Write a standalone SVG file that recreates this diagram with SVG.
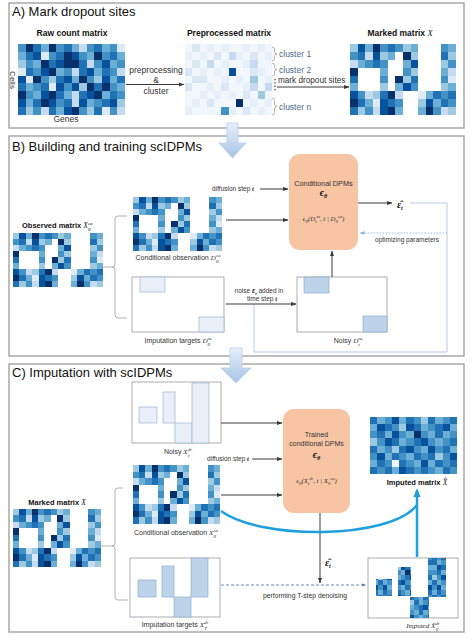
<svg xmlns="http://www.w3.org/2000/svg" width="472" height="640" viewBox="0 0 472 640">
<defs>
<style>
text{font-family:"Liberation Sans",Arial,sans-serif;fill:#333}
.t{font-size:13px;fill:#111}
.b{font-weight:bold;fill:#111}
.s{font-size:7px}
.m{font-family:"Liberation Serif","DejaVu Serif",serif;font-style:italic;font-weight:normal}
.mb{font-family:"Liberation Serif","DejaVu Serif",serif;font-style:italic;font-weight:bold;fill:#111}
.panel{fill:#fff;stroke:#9c9c9c;stroke-width:1.3}
.ln{stroke:#3a3a3a;stroke-width:1;fill:none}
.gr{stroke:#a8a8a8;stroke-width:0.9;fill:none}
.box{fill:#fff;stroke:#9a9a9a;stroke-width:0.8}
.dpm{fill:#f7c4a4}
.cl{font-size:8.5px;fill:#50698a}
.lt{fill:#e8eff8;stroke:#9db5d0;stroke-width:0.7}
.md{fill:#bcd3ea;stroke:#8fb0d4;stroke-width:0.7}
.big{fill:url(#ga);stroke:#b7cde6;stroke-width:0.8}
.cx path,.cx rect{shape-rendering:crispEdges}
</style>
<linearGradient id="ga" x1="0" y1="0" x2="0" y2="1"><stop offset="0" stop-color="#e6f0fa"/><stop offset="1" stop-color="#a7c4e6"/></linearGradient>
<marker id="ah" viewBox="0 0 10 10" refX="9" refY="5" markerWidth="6" markerHeight="6" markerUnits="userSpaceOnUse" orient="auto"><path d="M0,1.5 L10,5 L0,8.5z" fill="#3a3a3a"/></marker>
<marker id="ahl" viewBox="0 0 10 10" refX="9" refY="5" markerWidth="5" markerHeight="5" markerUnits="userSpaceOnUse" orient="auto"><path d="M0,1.5 L10,5 L0,8.5z" fill="#8fb3dc"/></marker>
<marker id="ahd" viewBox="0 0 10 10" refX="9" refY="5" markerWidth="5" markerHeight="5" markerUnits="userSpaceOnUse" orient="auto"><path d="M0,1.5 L10,5 L0,8.5z" fill="#5f82ad"/></marker>
<marker id="ahb" viewBox="0 0 10 10" refX="8" refY="5" markerWidth="9" markerHeight="9" markerUnits="userSpaceOnUse" orient="auto"><path d="M0,1 L10,5 L0,9z" fill="#1d9fe0"/></marker>

<symbol id="mk" viewBox="0 0 14 9" preserveAspectRatio="none" class="cx">
<rect width="14" height="9" fill="#fff"/>
<path fill="#08306b" d="M3 0h1v1h-1zM7 1h1v1h-1zM0 3h1v1h-1zM6 4h1v1h-1zM5 6h1v1h-1zM0 7h1v1h-1zM5 8h1v1h-1zM10 8h1v1h-1z"/>
<path fill="#08519c" d="M1 0h1v1h-1zM3 1h1v1h-1zM8 2h1v1h-1zM7 5h1v1h-1zM0 6h1v1h-1zM4 7h1v1h-1zM10 7h1v1h-1zM4 8h1v1h-1z"/>
<path fill="#2171b5" d="M5 0h1v1h-1zM1 1h1v1h-1zM12 1h1v1h-1zM3 2h1v1h-1zM0 4h1v1h-1zM8 4h1v1h-1zM4 6h1v1h-1zM11 6h1v1h-1zM13 6h1v1h-1zM1 7h1v1h-1zM5 7h1v1h-1zM12 7h1v1h-1zM0 8h1v1h-1z"/>
<path fill="#4292c6" d="M4 0h1v1h-1zM6 0h1v1h-1zM12 0h1v1h-1zM0 1h1v1h-1zM2 2h1v1h-1zM4 2h1v1h-1zM13 2h1v1h-1zM7 3h1v1h-1zM4 4h1v1h-1zM12 4h1v1h-1zM8 5h1v1h-1zM1 6h1v1h-1zM12 6h1v1h-1zM6 7h1v1h-1zM13 7h1v1h-1zM2 8h1v1h-1zM11 8h1v1h-1z"/>
<path fill="#6baed6" d="M2 0h1v1h-1zM8 0h1v1h-1zM13 0h1v1h-1zM5 1h1v1h-1zM1 2h1v1h-1zM7 2h1v1h-1zM4 3h1v1h-1zM12 3h1v1h-1zM0 5h1v1h-1zM6 5h1v1h-1zM13 5h1v1h-1zM10 6h1v1h-1zM2 7h1v1h-1zM11 7h1v1h-1zM6 8h1v1h-1zM9 8h1v1h-1z"/>
<path fill="#9ecae1" d="M0 0h1v1h-1zM7 0h1v1h-1zM4 1h1v1h-1zM8 1h1v1h-1zM13 1h1v1h-1zM12 2h1v1h-1zM8 3h1v1h-1zM7 4h1v1h-1zM4 5h1v1h-1zM12 5h1v1h-1zM3 6h1v1h-1zM9 7h1v1h-1zM1 8h1v1h-1zM13 8h1v1h-1z"/>
<path fill="#c6dbef" d="M2 1h1v1h-1zM0 2h1v1h-1zM13 3h1v1h-1zM2 6h1v1h-1zM6 6h1v1h-1zM3 8h1v1h-1zM12 8h1v1h-1z"/>
<path fill="#deebf7" d="M13 4h1v1h-1zM9 6h1v1h-1zM3 7h1v1h-1z"/>
</symbol>

<symbol id="raw" viewBox="0 0 14 9" preserveAspectRatio="none" class="cx">
<path fill="#08306b" d="M1 0h1v1h-1zM4 0h1v1h-1zM6 1h1v1h-1zM10 1h1v1h-1zM3 2h1v1h-1zM6 2h1v1h-1zM7 2h1v1h-1zM4 3h1v1h-1zM2 4h1v1h-1zM8 4h1v1h-1zM9 5h1v1h-1zM11 5h1v1h-1zM0 6h1v1h-1zM4 6h1v1h-1zM10 6h1v1h-1zM3 7h1v1h-1zM7 8h1v1h-1z"/>
<path fill="#08519c" d="M2 1h1v1h-1zM7 1h1v1h-1zM5 2h1v1h-1zM11 2h1v1h-1zM3 3h1v1h-1zM9 3h1v1h-1zM0 4h1v1h-1zM6 4h1v1h-1zM11 4h1v1h-1zM5 5h1v1h-1zM7 5h1v1h-1zM3 6h1v1h-1zM9 6h1v1h-1zM0 7h1v1h-1zM4 7h1v1h-1zM8 7h1v1h-1zM12 7h1v1h-1zM6 8h1v1h-1z"/>
<path fill="#2171b5" d="M2 0h1v1h-1zM6 0h1v1h-1zM10 0h1v1h-1zM1 1h1v1h-1zM5 1h1v1h-1zM12 1h1v1h-1zM4 2h1v1h-1zM8 2h1v1h-1zM1 3h1v1h-1zM8 3h1v1h-1zM11 3h1v1h-1zM5 4h1v1h-1zM13 4h1v1h-1zM0 5h1v1h-1zM3 5h1v1h-1zM10 5h1v1h-1zM5 6h1v1h-1zM8 6h1v1h-1zM12 6h1v1h-1zM2 7h1v1h-1zM6 7h1v1h-1zM11 7h1v1h-1zM0 8h1v1h-1zM4 8h1v1h-1zM10 8h1v1h-1z"/>
<path fill="#4292c6" d="M0 0h1v1h-1zM5 0h1v1h-1zM9 0h1v1h-1zM12 0h1v1h-1zM4 1h1v1h-1zM8 1h1v1h-1zM11 1h1v1h-1zM1 2h1v1h-1zM10 2h1v1h-1zM13 2h1v1h-1zM2 3h1v1h-1zM6 3h1v1h-1zM12 3h1v1h-1zM3 4h1v1h-1zM9 4h1v1h-1zM2 5h1v1h-1zM6 5h1v1h-1zM12 5h1v1h-1zM1 6h1v1h-1zM13 6h1v1h-1zM5 7h1v1h-1zM10 7h1v1h-1zM2 8h1v1h-1zM8 8h1v1h-1zM12 8h1v1h-1z"/>
<path fill="#6baed6" d="M3 0h1v1h-1zM7 0h1v1h-1zM11 0h1v1h-1zM0 1h1v1h-1zM9 1h1v1h-1zM13 1h1v1h-1zM2 2h1v1h-1zM12 2h1v1h-1zM5 3h1v1h-1zM10 3h1v1h-1zM7 4h1v1h-1zM12 4h1v1h-1zM1 5h1v1h-1zM13 5h1v1h-1zM2 6h1v1h-1zM6 6h1v1h-1zM11 6h1v1h-1zM1 7h1v1h-1zM9 7h1v1h-1zM5 8h1v1h-1z"/>
<path fill="#9ecae1" d="M0 2h1v1h-1zM4 4h1v1h-1zM10 4h1v1h-1zM8 5h1v1h-1zM13 7h1v1h-1zM1 8h1v1h-1zM9 8h1v1h-1z"/>
<path fill="#c6dbef" d="M8 0h1v1h-1zM9 2h1v1h-1zM7 3h1v1h-1zM13 3h1v1h-1zM7 6h1v1h-1zM7 7h1v1h-1zM3 8h1v1h-1zM13 8h1v1h-1z"/>
<path fill="#deebf7" d="M13 0h1v1h-1zM3 1h1v1h-1zM0 3h1v1h-1zM1 4h1v1h-1zM4 5h1v1h-1zM11 8h1v1h-1z"/>
</symbol>

<symbol id="pre" viewBox="0 0 12 9" preserveAspectRatio="none" class="cx">
<rect width="12" height="9" fill="#f1f7fc"/>
<path fill="#08306b" d="M7 7h1v1h-1z"/>
<path fill="#08519c" d="M6 3h1v1h-1z"/>
<path fill="#4292c6" d="M5 8h1v1h-1z"/>
<path fill="#9ecae1" d="M9 4h1v1h-1zM10 6h1v1h-1z"/>
<path fill="#c6dbef" d="M6 1h1v1h-1zM3 2h1v1h-1zM9 2h1v1h-1zM9 5h1v1h-1zM11 5h1v1h-1z"/>
<path fill="#dae8f5" d="M1 0h1v1h-1zM4 1h1v1h-1zM9 1h1v1h-1zM1 2h1v1h-1zM0 3h1v1h-1zM9 3h1v1h-1zM1 4h1v1h-1zM2 4h1v1h-1zM0 5h1v1h-1zM5 5h1v1h-1zM8 6h1v1h-1zM3 7h1v1h-1zM8 8h1v1h-1z"/>
<path fill="#e6f0f9" d="M3 0h1v1h-1zM5 0h1v1h-1zM8 0h1v1h-1zM10 0h1v1h-1zM0 1h1v1h-1zM2 1h1v1h-1zM7 1h1v1h-1zM11 1h1v1h-1zM5 2h1v1h-1zM8 2h1v1h-1zM2 3h1v1h-1zM4 3h1v1h-1zM10 3h1v1h-1zM5 4h1v1h-1zM7 4h1v1h-1zM11 4h1v1h-1zM3 5h1v1h-1zM8 5h1v1h-1zM2 6h1v1h-1zM4 6h1v1h-1zM6 6h1v1h-1zM1 7h1v1h-1zM9 7h1v1h-1zM11 7h1v1h-1zM0 8h1v1h-1zM6 8h1v1h-1zM10 8h1v1h-1z"/>
</symbol>

<symbol id="imp" viewBox="0 0 12 8" preserveAspectRatio="none" class="cx">
<rect width="12" height="8" fill="#6baed6"/>
<path fill="#08306b" d="M6 2h1v1h-1z"/>
<path fill="#08519c" d="M3 0h1v1h-1zM1 1h1v1h-1zM5 1h1v1h-1zM10 1h1v1h-1zM3 2h1v1h-1zM2 3h1v1h-1zM7 3h1v1h-1zM5 4h1v1h-1zM8 4h1v1h-1zM1 5h1v1h-1zM11 5h1v1h-1zM7 6h1v1h-1zM4 7h1v1h-1z"/>
<path fill="#2171b5" d="M0 0h1v1h-1zM5 0h1v1h-1zM8 0h1v1h-1zM11 0h1v1h-1zM2 1h1v1h-1zM6 1h1v1h-1zM9 1h1v1h-1zM1 2h1v1h-1zM9 2h1v1h-1zM3 3h1v1h-1zM6 3h1v1h-1zM11 3h1v1h-1zM0 4h1v1h-1zM4 4h1v1h-1zM10 4h1v1h-1zM3 5h1v1h-1zM6 5h1v1h-1zM8 5h1v1h-1zM1 6h1v1h-1zM4 6h1v1h-1zM9 6h1v1h-1zM11 6h1v1h-1zM0 7h1v1h-1zM2 7h1v1h-1zM5 7h1v1h-1zM7 7h1v1h-1zM10 7h1v1h-1z"/>
<path fill="#4292c6" d="M2 0h1v1h-1zM6 0h1v1h-1zM10 0h1v1h-1zM3 1h1v1h-1zM8 1h1v1h-1zM0 2h1v1h-1zM4 2h1v1h-1zM7 2h1v1h-1zM11 2h1v1h-1zM1 3h1v1h-1zM5 3h1v1h-1zM8 3h1v1h-1zM10 3h1v1h-1zM2 4h1v1h-1zM6 4h1v1h-1zM9 4h1v1h-1zM0 5h1v1h-1zM4 5h1v1h-1zM7 5h1v1h-1zM10 5h1v1h-1zM2 6h1v1h-1zM5 6h1v1h-1zM10 6h1v1h-1zM1 7h1v1h-1zM6 7h1v1h-1zM8 7h1v1h-1zM11 7h1v1h-1z"/>
<path fill="#9ecae1" d="M7 0h1v1h-1zM4 1h1v1h-1zM0 3h1v1h-1zM3 4h1v1h-1zM9 5h1v1h-1z"/>
<path fill="#f0f6fc" d="M3 6h1v1h-1z"/>
</symbol>
<pattern id="pimp" patternUnits="userSpaceOnUse" x="0" y="0" width="54" height="40"><use href="#imp" width="54" height="40"/></pattern>
</defs>

<rect width="472" height="640" fill="#fff"/>

<!-- Panels -->
<g id="panel-a"><rect class="panel" x="9" y="3" width="455" height="125"/><text class="t" x="12" y="16">A) Mark dropout sites</text></g>
<g id="panel-b"><rect class="panel" x="9" y="136" width="455" height="220"/><text class="t" x="12" y="151">B) Building and training scIDPMs</text></g>
<g id="panel-c"><rect class="panel" x="9" y="364" width="455" height="268"/><text class="t" x="12" y="377">C) Imputation with scIDPMs</text></g>

<!-- Panel A nodes -->
<g id="raw-matrix">
<text class="b" x="72" y="36" font-size="8.5" text-anchor="middle">Raw count matrix</text>
<use href="#raw" x="18" y="44" width="107" height="71"/>
<text transform="translate(10,80) rotate(90)" font-size="8" text-anchor="middle">Cells</text>
<text x="66" y="122" font-size="8.5" text-anchor="middle">Genes</text>
</g>
<g id="preprocessed-matrix">
<text class="b" x="229" y="36" font-size="8.5" text-anchor="middle">Preprocessed matrix</text>
<use href="#pre" x="185" y="44" width="87" height="71"/>
<path class="gr" d="M272,47 q2.5,0 2.5,2.5 v2 q0,2.5 2.5,2.5 q-2.5,0 -2.5,2.5 v2 q0,2.5 -2.5,2.5"/>
<path class="gr" d="M272,63 q2.5,0 2.5,2.5 v1.5 q0,2.5 2.5,2.5 q-2.5,0 -2.5,2.5 v1.5 q0,2.5 -2.5,2.5"/>
<path class="gr" d="M272,98 q2.5,0 2.5,2.5 v3.5 q0,2.5 2.5,2.5 q-2.5,0 -2.5,2.5 v3.5 q0,2.5 -2.5,2.5"/>
<text class="cl" x="279" y="57">cluster 1</text>
<text class="cl" x="279" y="73">cluster 2</text>
<text class="cl" x="279" y="110">cluster n</text>
</g>
<g id="marked-matrix-a">
<text class="b" x="400" y="36" font-size="8.5" text-anchor="middle">Marked matrix <tspan class="m" font-weight="bold">X</tspan></text>
<use href="#mk" x="350" y="44" width="106" height="71"/>
</g>

<!-- Panel B nodes -->
<g id="observed-matrix">
<text class="b" x="22" y="228" font-size="7.5">Observed matrix <tspan class="m">X</tspan><tspan class="m" font-size="5" dy="-3.5">ca</tspan><tspan class="m" font-size="5" dx="-4.5" dy="6">0</tspan></text>
<use href="#mk" x="13" y="233" width="90" height="54"/>
</g>
<g id="cond-obs-b">
<use href="#mk" x="133" y="197" width="89" height="54"/>
<text x="178" y="260" font-size="7" text-anchor="middle">Conditional observation <tspan class="m">D</tspan><tspan class="m" font-size="5" dy="-3.5">ca</tspan><tspan class="m" font-size="5" dx="-4.5" dy="6">0</tspan></text>
</g>
<g id="imp-targets-b">
<rect class="box" x="132" y="277" width="92" height="55"/>
<rect class="lt" x="140" y="277" width="25" height="15"/>
<rect class="lt" x="199" y="317" width="25" height="15"/>
<text x="178" y="343" font-size="7" text-anchor="middle">Imputation targets <tspan class="m">D</tspan><tspan class="m" font-size="5" dy="-3.5">ta</tspan><tspan class="m" font-size="5" dx="-4" dy="6">0</tspan></text>
</g>
<g id="dpm-b">
<rect class="dpm" x="289" y="154" width="69" height="96" rx="11"/>
<text x="323.5" y="186" font-size="7.3" text-anchor="middle" fill="#3a2a20">Conditional DPMs</text>
<text class="mb" x="323.5" y="196" font-size="10" text-anchor="middle">ϵ<tspan font-size="6" dy="2">θ</tspan></text>
<text class="m" x="323.5" y="221" font-size="6.8" text-anchor="middle" fill="#3a2a20">ϵ<tspan font-size="5" dy="2">θ</tspan><tspan dy="-2">(</tspan>D<tspan font-size="4.5" dy="2">t</tspan><tspan font-size="4.5" dy="-5.5">ta</tspan><tspan dy="3.5">, t | </tspan>D<tspan font-size="4.5" dy="2">0</tspan><tspan font-size="4.5" dy="-5.5">ca</tspan><tspan dy="3.5">)</tspan></text>
</g>
<g id="eps-hat-b">
<text class="mb" x="397" y="208" font-size="10">ε̂<tspan font-size="6" dy="2">t</tspan></text>
</g>
<g id="noisy-b">
<rect class="box" x="297" y="277" width="90" height="55"/>
<rect class="md" x="304" y="277" width="25" height="16"/>
<rect class="md" x="363" y="316" width="24" height="16"/>
<text x="348" y="343" font-size="7" text-anchor="middle">Noisy <tspan class="m">D</tspan><tspan class="m" font-size="5" dy="-3.5">ta</tspan><tspan class="m" font-size="5" dx="-4" dy="6">t</tspan></text>
</g>

<!-- Panel C nodes -->
<g id="noisy-c">
<rect class="box" x="132" y="382" width="89" height="61"/>
<rect class="lt" x="139" y="407" width="18" height="16"/>
<rect class="lt" x="163" y="392" width="12" height="31"/>
<rect class="lt" x="175" y="423" width="17" height="20"/>
<rect class="lt" x="192" y="383" width="17" height="60"/>
<text x="178" y="454" font-size="7" text-anchor="middle">Noisy <tspan class="m">X</tspan><tspan class="m" font-size="5" dy="-3.5">dr</tspan><tspan class="m" font-size="5" dx="-4" dy="6">t</tspan></text>
</g>
<g id="cond-obs-c">
<use href="#mk" x="133" y="465" width="87" height="59"/>
<text x="176" y="535" font-size="7" text-anchor="middle">Conditional observation <tspan class="m">X</tspan><tspan class="m" font-size="5" dy="-3.5">ca</tspan><tspan class="m" font-size="5" dx="-4.5" dy="6">0</tspan></text>
</g>
<g id="marked-matrix-c">
<text class="b" x="57" y="505" font-size="7.5" text-anchor="middle">Marked matrix <tspan class="m">X</tspan></text>
<use href="#mk" x="13" y="509" width="88" height="58"/>
</g>
<g id="imp-targets-c">
<rect class="box" x="130" y="558" width="90" height="59"/>
<rect class="md" x="138" y="580" width="18" height="17"/>
<rect class="md" x="162" y="566" width="12" height="31"/>
<rect class="md" x="174" y="597" width="17" height="20"/>
<rect class="md" x="191" y="558" width="17" height="39"/>
<text x="175" y="627" font-size="7" text-anchor="middle">Imputation targets <tspan class="m">X</tspan><tspan class="m" font-size="5" dy="-3.5">dr</tspan><tspan class="m" font-size="5" dx="-4" dy="6">T</tspan></text>
</g>
<g id="dpm-c">
<rect class="dpm" x="283" y="409" width="67" height="104" rx="11"/>
<text x="316.5" y="437" font-size="7" text-anchor="middle" fill="#3a2a20">Trained</text>
<text x="316.5" y="446" font-size="7" text-anchor="middle" fill="#3a2a20">conditional DPMs</text>
<text class="mb" x="316.5" y="458" font-size="10" text-anchor="middle">ϵ<tspan font-size="6" dy="2">θ</tspan></text>
<text class="m" x="316.5" y="483" font-size="6.8" text-anchor="middle" fill="#3a2a20">ϵ<tspan font-size="5" dy="2">θ</tspan><tspan dy="-2">(</tspan>X<tspan font-size="4.5" dy="2">t</tspan><tspan font-size="4.5" dy="-5.5">dr</tspan><tspan dy="3.5">, t | </tspan>X<tspan font-size="4.5" dy="2">0</tspan><tspan font-size="4.5" dy="-5.5">ca</tspan><tspan dy="3.5">)</tspan></text>
</g>
<g id="eps-hat-c">
<text class="mb" x="325" y="566" font-size="10">ε̂<tspan font-size="6" dy="2">t</tspan></text>
</g>
<g id="imputed-sub">
<rect class="box" x="368" y="558" width="90" height="60"/>
<rect x="376" y="579" width="16" height="17" fill="url(#pimp)"/>
<rect x="398" y="567" width="13" height="29" fill="url(#pimp)"/>
<rect x="410" y="597" width="19" height="21" fill="url(#pimp)"/>
<rect x="428" y="558" width="18" height="39" fill="url(#pimp)"/>
<text class="m" x="423" y="628" font-size="7" text-anchor="middle" font-style="normal">Imputed <tspan font-style="italic">X̂</tspan><tspan font-size="5" font-style="italic" dy="-3.5">dr</tspan><tspan font-size="5" font-style="italic" dx="-4" dy="6">0</tspan></text>
</g>
<g id="imputed-matrix">
<use href="#imp" x="370" y="417" width="87" height="57"/>
<text class="b" x="417" y="485" font-size="7.5" text-anchor="middle">Imputed matrix <tspan class="m">X̂</tspan></text>
</g>

<!-- Block arrows between panels -->
<g id="flow-arrows">
<path class="big" d="M227,123 H238 V143 H246 L232.5,158 L219,143 H227 Z"/>
<path class="big" d="M230,348 H242 V368 H251 L236,383 L221,368 H230 Z"/>
</g>

<!-- Connectors -->
<g id="connectors">
<line class="ln" x1="126" y1="84.5" x2="184" y2="84.5" marker-end="url(#ah)"/>
<text x="156" y="73" font-size="8.5" text-anchor="middle">preprocessing</text>
<text x="156" y="82.5" font-size="8.5" text-anchor="middle">&amp;</text>
<text x="156" y="94" font-size="8.5" text-anchor="middle">cluster</text>
<line x1="275" y1="79" x2="275" y2="92" stroke="#333" stroke-width="1.2" stroke-dasharray="1.3 2"/>
<text x="278" y="83" font-size="8.2">mark dropout sites</text>
<line class="ln" x1="277" y1="87" x2="349" y2="87" marker-end="url(#ah)"/>

<path class="gr" d="M127,216 H118 Q115,216 115,219 V264 Q115,267 112,267 H103 M112,267 Q115,267 115,270 V315 Q115,318 118,318 H127"/>
<text x="233" y="191" font-size="6.5" text-anchor="middle">diffusion step <tspan class="mb">t</tspan></text>
<line class="ln" x1="260" y1="189" x2="288" y2="189" marker-end="url(#ah)"/>
<line class="ln" x1="226" y1="220" x2="288" y2="220" marker-end="url(#ah)"/>
<line class="ln" x1="358" y1="203" x2="392" y2="203" marker-end="url(#ah)"/>
<path d="M410,203 H447 V352 H254 V304" fill="none" stroke="#b5cbe3" stroke-width="1"/>
<line x1="447" y1="233" x2="360" y2="233" stroke="#9dbbe0" stroke-width="1" stroke-dasharray="1.5 1.5" marker-end="url(#ahl)"/>
<text x="407" y="242" font-size="6.5" text-anchor="middle">optimizing  parameters</text>
<text x="259" y="293" font-size="6.5" text-anchor="middle">noise <tspan class="mb" font-size="8">ε</tspan><tspan class="mb" font-size="5" dy="1.5">t</tspan><tspan dy="-1.5"> added in</tspan></text>
<text x="262" y="301" font-size="6.5" text-anchor="middle">time step <tspan class="mb">t</tspan></text>
<line class="ln" x1="226" y1="304" x2="296" y2="304" marker-end="url(#ah)"/>
<line class="ln" x1="332" y1="277" x2="332" y2="251" marker-end="url(#ah)"/>

<line class="ln" x1="221" y1="423" x2="282" y2="423" marker-end="url(#ah)"/>
<text x="228" y="461" font-size="6.5" text-anchor="middle">diffusion step <tspan class="mb">t</tspan></text>
<line class="ln" x1="252" y1="459" x2="282" y2="459" marker-end="url(#ah)"/>
<line class="ln" x1="221" y1="495" x2="282" y2="495" marker-end="url(#ah)"/>
<path class="gr" d="M123,488 H118 Q115,488 115,491 V543 Q115,546 112,546 H101 M112,546 Q115,546 115,549 V597 Q115,600 118,600 H128"/>
<line class="ln" x1="320" y1="513" x2="320" y2="583" marker-end="url(#ah)"/>
<line x1="221" y1="585" x2="366" y2="585" stroke="#5f82ad" stroke-width="0.9" stroke-dasharray="3 2" marker-end="url(#ahd)"/>
<text x="305" y="598" font-size="6.8" text-anchor="middle">performing T-step denoising</text>
<path d="M221,511 C260,540 390,540 417,505" fill="none" stroke="#1d9fe0" stroke-width="2.5"/>
<line x1="417" y1="557" x2="417" y2="490" stroke="#1d9fe0" stroke-width="2.5" marker-end="url(#ahb)"/>
</g>
</svg>
